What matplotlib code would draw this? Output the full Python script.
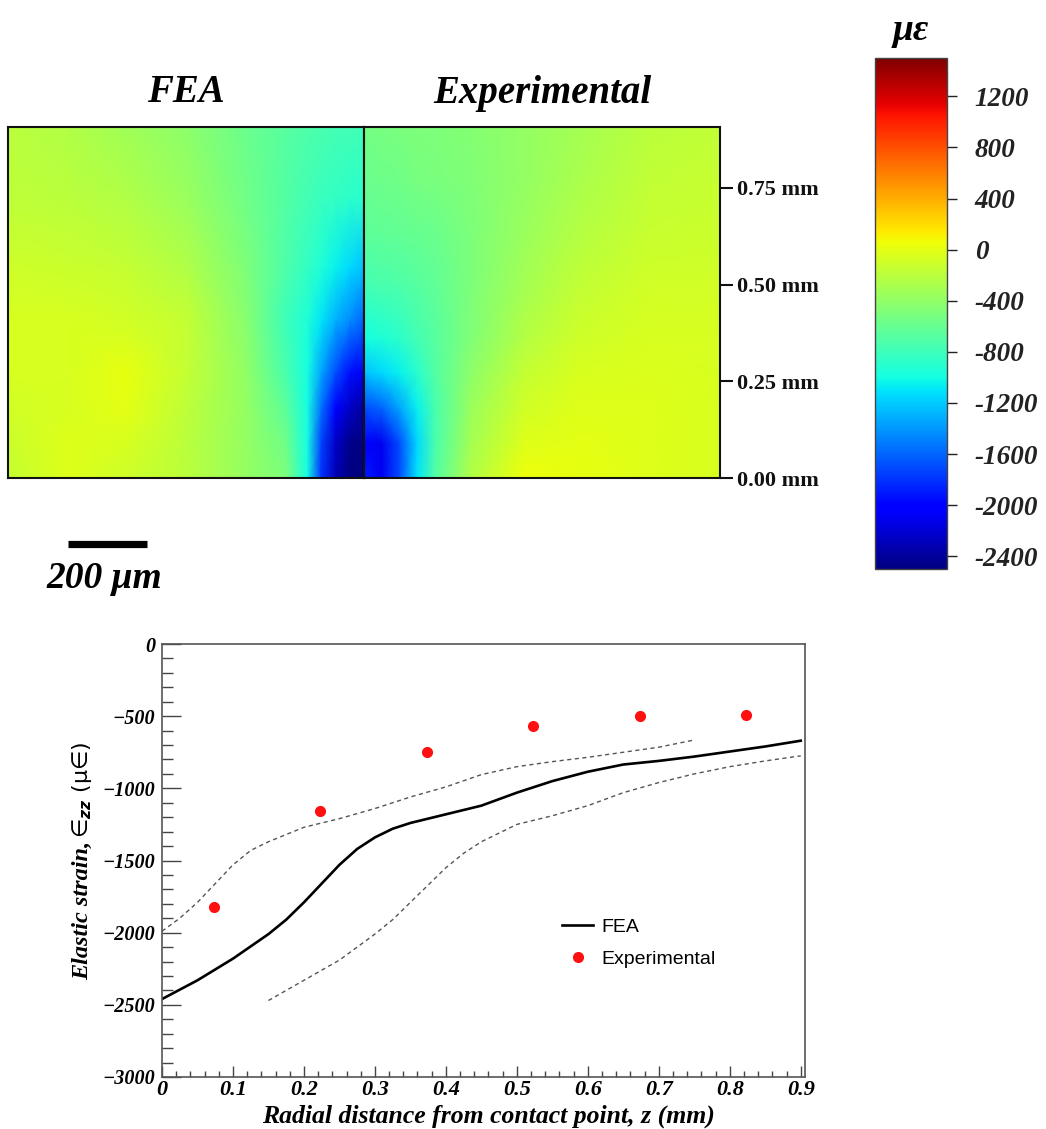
import numpy as np
import matplotlib
matplotlib.use("Agg")
import matplotlib.pyplot as plt
from matplotlib.ticker import MultipleLocator, FuncFormatter

# ---------------- data ----------------
# colour scale (micro-strain)
cbar_ticks = [1200, 800, 400, 0, -400, -800, -1200, -1600, -2000, -2400]
cbar_labels = ["1200", "800", "400", "0", "-400", "-800", "-1200", "-1600", "-2000", "-2400"]
vmin, vmax = -2500, 1500

panel_size = 0.907  # mm shown in each map
map_ticks = [0.0, 0.25, 0.50, 0.75]
map_tick_labels = ["0.00 mm", "0.25 mm", "0.50 mm", "0.75 mm"]

# FEA strain map sampled on a grid (fractions of panel), rows bottom -> top
fea_xf = [0, 0.17, 0.33, 0.5, 0.67, 0.78, 0.84, 0.88, 0.92, 0.96, 1.0]
fea_yf = [0, 0.1, 0.2, 0.3, 0.45, 0.6, 0.8, 1.0]
fea_vals = [
    [-150, -20, -100, -200, -380, -500, -1000, -1800, -2300, -2500, -2550],
    [-120, -30, -60, -200, -380, -550, -1000, -1750, -2250, -2450, -2500],
    [-80, -60, 0, -180, -380, -650, -1000, -1550, -2000, -2250, -2400],
    [-50, -60, 20, -150, -400, -750, -1000, -1350, -1700, -1950, -2100],
    [-50, -60, -80, -150, -450, -800, -950, -1100, -1300, -1450, -1600],
    [-100, -120, -150, -250, -500, -720, -850, -950, -1050, -1150, -1250],
    [-180, -200, -250, -350, -550, -700, -780, -820, -850, -880, -900],
    [-200, -250, -320, -420, -580, -680, -730, -750, -770, -780, -790],
]

# Experimental strain map sampled on a grid, rows bottom -> top
exp_xf = [0, 0.05, 0.1, 0.15, 0.2, 0.3, 0.45, 0.6, 0.8, 1.0]
exp_yf = [0, 0.1, 0.2, 0.3, 0.4, 0.55, 0.7, 0.85, 1.0]
exp_vals = [
    [-1900, -2100, -1700, -1100, -700, -250, 50, 20, -30, -60],
    [-2000, -2100, -1700, -1150, -750, -300, -20, 0, -30, -50],
    [-1700, -1600, -1350, -1050, -750, -350, -80, -20, -30, -50],
    [-1250, -1150, -1050, -900, -700, -420, -150, -60, -40, -50],
    [-1000, -950, -880, -780, -680, -470, -220, -100, -50, -60],
    [-780, -750, -720, -680, -630, -500, -300, -170, -90, -80],
    [-650, -640, -620, -600, -580, -500, -350, -230, -130, -110],
    [-580, -570, -550, -530, -510, -470, -380, -280, -170, -140],
    [-540, -530, -510, -500, -490, -460, -380, -300, -190, -160],
]

# line plot
fea_x = [0, 0.05, 0.1, 0.15, 0.175, 0.2, 0.225, 0.25, 0.275, 0.3, 0.325, 0.35, 0.4, 0.45, 0.5, 0.55, 0.6, 0.65, 0.7, 0.75, 0.8, 0.85, 0.9]
fea_y = [-2460, -2330, -2180, -2010, -1910, -1790, -1660, -1530, -1420, -1340, -1280, -1240, -1180, -1120, -1030, -950, -885, -835, -810, -780, -745, -710, -670]
upper_x = [0, 0.025, 0.05, 0.075, 0.1, 0.125, 0.15, 0.2, 0.25, 0.3, 0.35, 0.4, 0.45, 0.5, 0.55, 0.6, 0.65, 0.7, 0.75]
upper_y = [-1990, -1900, -1790, -1660, -1530, -1430, -1370, -1270, -1210, -1140, -1060, -990, -905, -850, -815, -785, -750, -715, -665]
lower_x = [0.15, 0.2, 0.25, 0.3, 0.325, 0.35, 0.375, 0.4, 0.425, 0.45, 0.5, 0.55, 0.6, 0.65, 0.7, 0.75, 0.8, 0.85, 0.9]
lower_y = [-2470, -2330, -2190, -2010, -1910, -1790, -1670, -1550, -1450, -1370, -1250, -1190, -1120, -1030, -960, -900, -850, -810, -775]
exp_x = [0.073, 0.223, 0.373, 0.523, 0.673, 0.823]
exp_y = [-1820, -1155, -750, -565, -500, -490]

# ---------------- style ----------------
plt.rcParams["font.family"] = ["Liberation Serif", "DejaVu Sans"]
plt.rcParams["font.weight"] = "bold"
plt.rcParams["font.style"] = "italic"

W, H = 1046, 1129
fig = plt.figure(figsize=(W / 100, H / 100), dpi=100)
fig.patch.set_facecolor("white")


def frac(l, t, r, b):
    return [l / W, 1 - b / H, (r - l) / W, (b - t) / H]


# ---------------- strain maps ----------------
ax1 = fig.add_axes(frac(8, 127, 364, 478))
ax2 = fig.add_axes(frac(364, 127, 720, 478))

X1, Y1 = np.meshgrid(np.array(fea_xf) * panel_size, np.array(fea_yf) * panel_size)
m = ax1.pcolormesh(X1, Y1, np.array(fea_vals, float), shading="gouraud",
                   cmap="jet", vmin=vmin, vmax=vmax)
X2, Y2 = np.meshgrid(np.array(exp_xf) * panel_size, np.array(exp_yf) * panel_size)
ax2.pcolormesh(X2, Y2, np.array(exp_vals, float), shading="gouraud",
               cmap="jet", vmin=vmin, vmax=vmax)

for ax in (ax1, ax2):
    ax.set_xlim(0, panel_size)
    ax.set_ylim(0, panel_size)
    for s in ax.spines.values():
        s.set_linewidth(1.5)
        s.set_color("#111111")
ax1.set_xticks([])
ax1.set_yticks([])
ax2.set_xticks([])
ax2.yaxis.tick_right()
ax2.set_yticks(map_ticks)
ax2.set_yticklabels(map_tick_labels, fontsize=16, fontweight="bold", fontstyle="normal")
ax2.tick_params(axis="y", direction="out", length=9, width=1.5, pad=3, colors="#111111")

fig.text(186 / W, 1 - 93 / H, "FEA", ha="center", va="center", fontsize=28)
fig.text(542 / W, 1 - 93 / H, "Experimental", ha="center", va="center", fontsize=28)

# scale bar 200 um
ax1.plot([0.153, 0.353], [-0.17, -0.17], color="black", lw=5.2,
         solid_capstyle="butt", clip_on=False)
fig.text(104 / W, 1 - 578 / H, "200 μm", ha="center", va="center", fontsize=27)

# colour bar
cax = fig.add_axes(frac(875, 58, 947, 569))
cb = fig.colorbar(m, cax=cax, ticks=cbar_ticks)
cb.ax.set_yticklabels(cbar_labels, fontsize=19.5)
cb.ax.tick_params(direction="out", length=7, width=1, pad=13, colors="#222222")
cb.outline.set_linewidth(1)
cb.outline.set_edgecolor("#444444")
fig.text(911 / W, 1 - 31 / H, "με", ha="center", va="center", fontsize=27)

# ---------------- line plot ----------------
ax3 = fig.add_axes(frac(162, 644, 805, 1077))
ax3.plot(fea_x, fea_y, color="black", lw=1.9, label="FEA")
ax3.plot(upper_x, upper_y, color="#555555", lw=1, dashes=(3, 2.5))
ax3.plot(lower_x, lower_y, color="#555555", lw=1, dashes=(3, 2.5))
ax3.plot(exp_x, exp_y, "o", color="#ff1010", ms=7, mec="#ff1010", label="Experimental")

ax3.set_xlim(0, 0.906)
ax3.set_ylim(-3000, 0)
ax3.xaxis.set_major_locator(MultipleLocator(0.1))
ax3.xaxis.set_minor_locator(MultipleLocator(0.02))
ax3.yaxis.set_major_locator(MultipleLocator(500))
ax3.yaxis.set_minor_locator(MultipleLocator(100))
ax3.xaxis.set_major_formatter(FuncFormatter(lambda v, p: "0" if abs(v) < 1e-9 else f"{v:.1f}"))
ax3.yaxis.set_major_formatter(FuncFormatter(lambda v, p: "0" if abs(v) < 1e-9 else f"\u2212{abs(v):.0f}"))
ax3.tick_params(axis="x", which="major", direction="in", length=8, width=1, pad=2, labelsize=16, colors="#444444", labelcolor="black")
ax3.tick_params(axis="x", which="minor", direction="in", length=4.5, width=1, colors="#444444")
ax3.tick_params(axis="y", which="major", direction="in", length=14, width=1, pad=5, labelsize=14.5, colors="#444444", labelcolor="black")
ax3.tick_params(axis="y", which="minor", direction="in", length=8, width=1, colors="#444444")
for s in ax3.spines.values():
    s.set_color("#555555")
    s.set_linewidth(1.2)

leg = ax3.legend(loc="center left", bbox_to_anchor=((562 - 162) / 643, (1077 - 943) / 433),
                 frameon=False, borderpad=0, borderaxespad=0, handlelength=1.6,
                 handletextpad=0.4, labelspacing=0.75,
                 prop={"family": "Liberation Sans", "size": 14, "style": "normal", "weight": "normal"})

fig.text(488 / W, 1 - 1116 / H, "Radial distance from contact point, z (mm)",
         ha="center", va="center", fontsize=18.5)
ax3.text(-0.124, (1077 - 910) / 433, "Elastic strain,", rotation=90, ha="center", va="center",
         transform=ax3.transAxes, fontsize=17.5)
ax3.text(-0.124, (1077 - 790) / 433, "\u2208$_{zz}$ (\u03bc\u2208)", rotation=90, ha="center", va="center",
         transform=ax3.transAxes, fontsize=16, family="DejaVu Sans", style="normal", weight="normal")

fig.savefig("out.png", dpi=100, facecolor="white")
